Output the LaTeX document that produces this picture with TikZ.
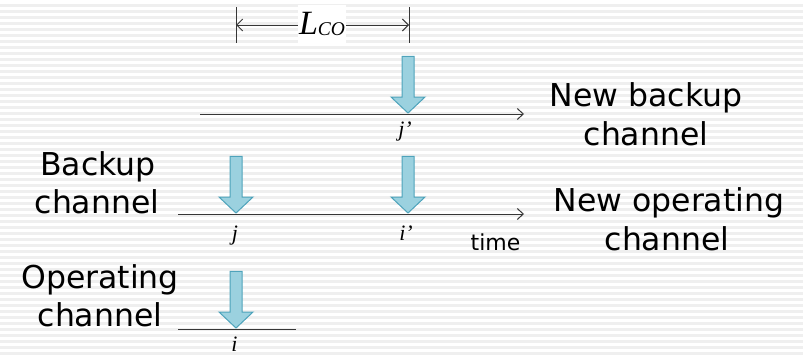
\documentclass[tikz,border=0pt]{standalone}
\usepackage{fontspec}
\setmainfont{DejaVu Sans}
\newfontfamily\timesf{Liberation Serif}
\usetikzlibrary{arrows.meta}

\definecolor{stripegray}{RGB}{239,239,239}
\definecolor{arrowfill}{RGB}{155,209,223}
\definecolor{arrowedge}{RGB}{78,163,187}
\definecolor{axisgray}{RGB}{55,55,55}

\begin{document}
\begin{tikzpicture}[x=1pt,y=-1pt,
  axis/.style={draw=axisgray,line width=1pt},
  timeaxis/.style={axis,-{Straight Barb[length=6pt,width=11pt]}},
  dimline/.style={axis,{Straight Barb[length=6pt,width=12pt]}-{Straight Barb[length=6pt,width=12pt]}},
  caption/.style={font=\fontsize{31.5}{38}\selectfont,inner sep=0pt,anchor=base},
  smallcap/.style={font=\fontsize{22}{22}\selectfont,inner sep=0pt,anchor=base},
  idx/.style={font=\timesf\itshape\fontsize{22}{22}\selectfont,inner sep=0pt,anchor=base},
  blockarrow/.style={fill=arrowfill,draw=arrowedge,line width=1pt,line join=miter},
  pics/chanarrow/.style={code={
    \draw[blockarrow] (-6,-56.6) -- (-6,-16) -- (-17,-16) -- (0,0)
      -- (17,-16) -- (6,-16) -- (6,-56.6) -- cycle;}}]

% canvas and ruled background
\useasboundingbox (0,0) rectangle (803,356);
\fill[white] (0,0) rectangle (803,356);
\foreach \k in {0,...,58}
  \fill[stripegray] (0,4+6*\k) rectangle (803,6.8+6*\k);

% switching delay L_CO
\coordinate (tickLtop) at (236,7);
\coordinate (tickLbot) at (236,43);
\coordinate (tickRtop) at (409,7);
\coordinate (tickRbot) at (409,43);
\coordinate (dimL) at (236,25);
\coordinate (dimR) at (409,25);
\draw[axis] (tickLtop) -- (tickLbot);
\draw[axis] (tickRtop) -- (tickRbot);
\draw[dimline] (dimL) -- (dimR);
\node[fill=white,inner xsep=1pt,inner ysep=0pt,minimum height=38pt] (lco) at (322,24)
  {\timesf\itshape\fontsize{34}{34}\selectfont L\fontsize{19.5}{19.5}\selectfont\raisebox{-1pt}{CO}};

% new backup channel
\coordinate (nbStart) at (200,114);
\coordinate (nbEnd) at (524,114);
\draw[timeaxis] (nbStart) -- (nbEnd);
\coordinate (jpTip) at (408,113);
\pic at (jpTip) {chanarrow};
\node[idx] (jpLabel) at (405,136) {j’};
\node[caption] (nbLine1) at (646,106.7) {New backup};
\node[caption] (nbLine2) at (646,145) {channel};

% backup / new operating channel
\coordinate (bkStart) at (178,214);
\coordinate (bkEnd) at (524,214);
\draw[timeaxis] (bkStart) -- (bkEnd);
\coordinate (jTip) at (236,213);
\coordinate (ipTip) at (408,213);
\pic at (jTip) {chanarrow};
\pic at (ipTip) {chanarrow};
\node[idx] (jLabel) at (235,240) {j};
\node[idx] (ipLabel) at (406,240) {i’};
\node[smallcap] (timeLabel) at (495.5,250) {time};
\node[caption] (bkLine1) at (98,175) {Backup};
\node[caption] (bkLine2) at (97,213.3) {channel};
\node[caption] (noLine1) at (669,211.7) {New operating};
\node[caption] (noLine2) at (667,250) {channel};

% operating channel
\coordinate (opStart) at (178,329);
\coordinate (opEnd) at (296,329);
\draw[axis] (opStart) -- (opEnd);
\coordinate (iTip) at (236,328);
\pic at (iTip) {chanarrow};
\node[idx] (iLabel) at (234.5,351.5) {i};
\node[caption] (opLine1) at (100,288.3) {Operating};
\node[caption] (opLine2) at (100,326.7) {channel};
\end{tikzpicture}
\end{document}
